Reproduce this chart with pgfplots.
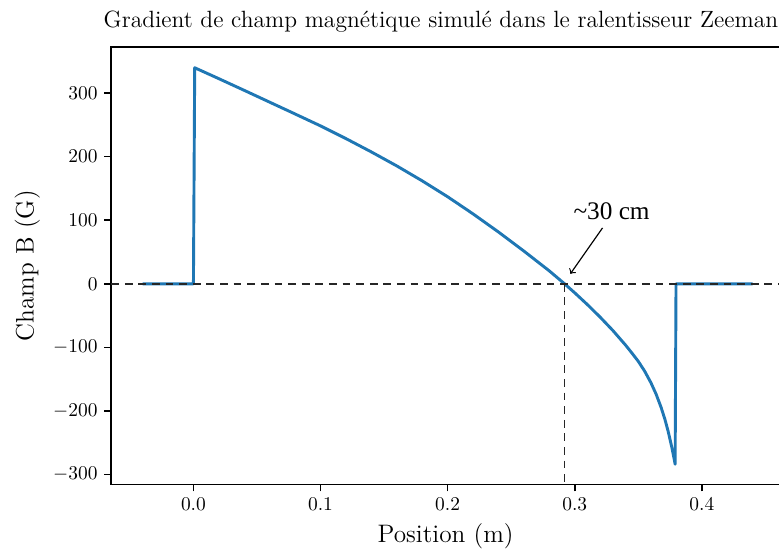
\documentclass[border=0pt]{standalone}
\usepackage{fontspec}
\usepackage{pgfplots}
\pgfplotsset{compat=1.18}
\newfontfamily\annfont{Liberation Serif}
\definecolor{mplblue}{HTML}{1F77B4}
\begin{document}
\begin{tikzpicture}
\begin{axis}[name=ax, scale only axis, width=344pt, height=225pt,
 xmin=-0.0647, xmax=0.4615, ymin=-315.8, ymax=372.6,
 xtick={0,0.1,0.2,0.3,0.4}, ytick={-300,-200,-100,0,100,200,300},
 xticklabel style={/pgf/number format/fixed, /pgf/number format/fixed zerofill, /pgf/number format/precision=1},
 scaled ticks=false,
 tick align=outside, xtick pos=bottom, ytick pos=left, major tick length=3.5pt,
 tick style={black, line width=0.8pt}, axis line style={line width=0.8pt},
 ticklabel style={font=\fontsize{10}{12}\selectfont},
 xlabel={Position (m)}, ylabel={Champ B (G)},
 label style={font=\fontsize{13}{15}\selectfont},
 title={Gradient de champ magnétique simulé dans le ralentisseur Zeeman},
 title style={font=\fontsize{12.1}{14}\selectfont, yshift=-2pt, xshift=-2.4pt},
]
\addplot[mplblue, line width=1.5pt, line join=round] coordinates {
(-0.040,0) (0.000,0) (0.001,340) (0.020,322.8) (0.040,304.4) (0.060,285.8)
(0.0765,270.5) (0.100,248.5) (0.120,228.5) (0.140,207.5) (0.160,185.5)
(0.180,162) (0.200,137) (0.220,110) (0.240,81.5) (0.260,51.5)
(0.280,20.3) (0.292,0) (0.300,-14.2) (0.310,-32.8) (0.320,-52.5)
(0.330,-73.5) (0.340,-96.5) (0.345,-109) (0.350,-122) (0.355,-137.4)
(0.360,-155.9) (0.364,-173.5) (0.368,-194.7) (0.371,-213.6) (0.3735,-232.1)
(0.3763,-256.5) (0.3775,-268.5) (0.3785,-278.5) (0.379,-284)
(0.3797,0) (0.440,0)
};
\addplot[black!85, line width=0.9pt, dash pattern=on 4pt off 3pt] coordinates {(-0.0647,0) (0.4615,0)};
\addplot[black!85, line width=0.9pt, dash pattern=on 4pt off 3pt] coordinates {(0.292,0) (0.292,-315.8)};
\draw[->, line width=0.6pt] (axis cs:0.3219,88) -- (axis cs:0.2966,15.8);
\node[font=\annfont\fontsize{13}{15}\selectfont] at (axis cs:0.329,115) {\textasciitilde 30 cm};
\end{axis}
\pgfresetboundingbox
\path ([xshift=-57.2pt,yshift=-33pt]ax.south west) rectangle ([xshift=-0.5pt,yshift=24.2pt]ax.north east);
\end{tikzpicture}
\end{document}
